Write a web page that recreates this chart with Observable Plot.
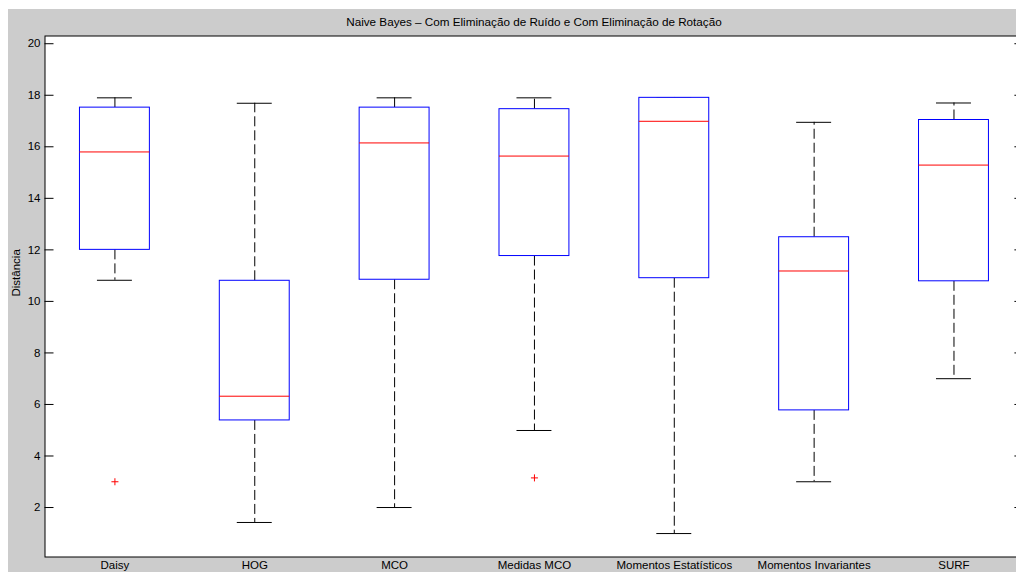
<!DOCTYPE html>
<html>
<head>
<meta charset="utf-8">
<script src="https://cdn.jsdelivr.net/npm/d3@7"></script>
<script src="https://cdn.jsdelivr.net/npm/@observablehq/plot@0.6"></script>
<style>
  html, body { margin: 0; padding: 0; overflow: hidden; background: #ffffff; width: 1016px; height: 572px; }
  #fig { position: absolute; left: 8px; top: 9px; width: 1100px; height: 600px; background: #cccccc; }
  #title { height: 26px; box-sizing: border-box; padding-top: 6px; line-height: 14px; font-size: 11.7px; color: #000; text-align: center; white-space: nowrap; font-family: "Liberation Sans", Arial, Helvetica, sans-serif; }
  #chart svg { display: block; }
</style>
</head>
<body>
<div id="fig">
  <div id="title">Naive Bayes – Com Eliminação de Ruído e Com Eliminação de Rotação</div>
  <div id="chart"></div>
</div>
<script>
const categories = ["Daisy", "HOG", "MCO", "Medidas MCO", "Momentos Estatísticos", "Momentos Invariantes", "SURF"];
const whiskerHigh = [17.90, 17.69, 17.90, 17.90, 17.90, 16.95, 17.70];
const upperQuartile = [17.52, 10.80, 17.52, 17.46, 17.90, 12.49, 17.04];
const medians = [15.80, 6.32, 16.15, 15.64, 16.99, 11.18, 15.29];
const lowerQuartile = [12.00, 5.38, 10.84, 11.76, 10.90, 5.77, 10.78];
const whiskerLow = [10.82, 1.42, 2.00, 4.99, 0.99, 3.00, 7.00];
const outlierNames = ["Daisy", "Medidas MCO"];
const outlierValues = [3.00, 3.15];
const yTicks = [2, 4, 6, 8, 10, 12, 14, 16, 18, 20];
const yLabel = "Distância";

const boxes = categories.map((name, i) => ({
  name, hi: whiskerHigh[i], q3: upperQuartile[i], med: medians[i], q1: lowerQuartile[i], lo: whiskerLow[i]
}));
const outliers = outlierNames.map((name, i) => ({name, value: outlierValues[i]}));

const marginLeft = 36.5, plotW = 978.9, marginRight = 20.6;
const width = marginLeft + plotW + marginRight;
const marginTop = 0.5, marginBottom = 20.5, height = 542;
const step = plotW / categories.length;
const capInset = step * 0.5 / 4;
const tickLen = 9;
const font = '"Liberation Sans", Arial, Helvetica, sans-serif';

document.getElementById("title").style.width = (2 * marginLeft + plotW) + "px";

const chart = Plot.plot({
  width, height, marginLeft, marginRight, marginTop, marginBottom,
  style: {background: "#cccccc", fontFamily: font, fontSize: "11.5px", color: "#000", overflow: "visible"},
  x: {type: "band", domain: categories, paddingInner: 0.5, paddingOuter: 0.25, round: false, label: null},
  y: {domain: [0.08, 20.3], label: null},
  marks: [
    Plot.frame({fill: "white", stroke: null}),
    Plot.tickY(yTicks, {y: d => d, insetRight: plotW - tickLen, stroke: "#000", strokeWidth: 1}),
    Plot.tickY(yTicks, {y: d => d, insetLeft: plotW - tickLen, stroke: "#000", strokeWidth: 1}),
    Plot.axisY(yTicks, {tickSize: 0, tickPadding: 4.5, label: null, fill: "#000", fontSize: 11.5}),
    Plot.axisX({tickSize: 0, tickPadding: 4, label: null, fill: "#000", fontSize: 11.5}),
    Plot.ruleX(boxes, {x: "name", y1: "q3", y2: "hi", stroke: "#000", strokeDasharray: "10,4"}),
    Plot.ruleX(boxes, {x: "name", y1: "q1", y2: "lo", stroke: "#000", strokeDasharray: "10,4"}),
    Plot.tickY(boxes, {x: "name", y: "hi", insetLeft: capInset, insetRight: capInset, stroke: "#000"}),
    Plot.tickY(boxes, {x: "name", y: "lo", insetLeft: capInset, insetRight: capInset, stroke: "#000"}),
    Plot.barY(boxes, {x: "name", y1: "q1", y2: "q3", fill: "white", stroke: "#0000ff", strokeWidth: 1}),
    Plot.tickY(boxes, {x: "name", y: "med", stroke: "#ff0000", strokeWidth: 1}),
    Plot.dot(outliers, {x: "name", y: "value", symbol: "plus", r: 2.4, stroke: "#ff0000", strokeWidth: 1}),
    Plot.text([yLabel], {text: d => d, frameAnchor: "left", rotate: -90, dx: -28.5, fill: "#000", fontSize: 11.5}),
    Plot.frame({stroke: "#000", strokeWidth: 1, fill: null})
  ]
});
document.getElementById("chart").appendChild(chart);
</script>
</body>
</html>
